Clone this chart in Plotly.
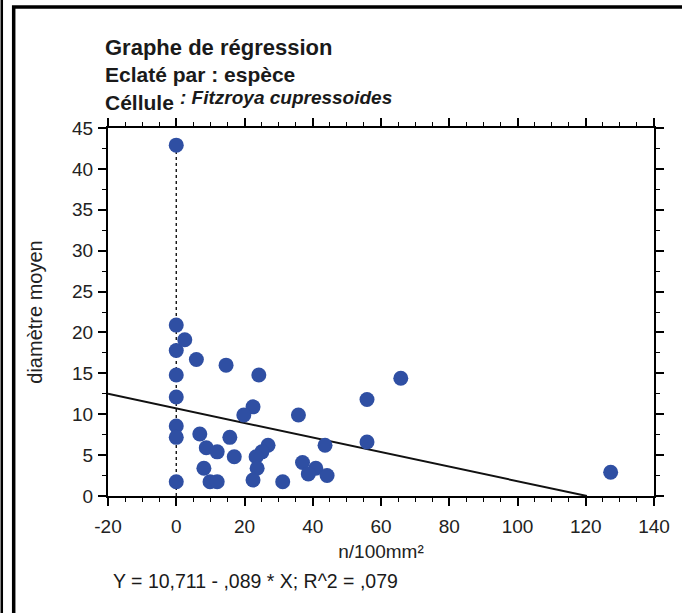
import plotly.graph_objects as go

# Data
x_vals = [0, 0, 0, 0, 0, 0, 0, 0,
          2.5, 5.9, 14.6, 24.2, 22.5, 19.8, 35.8, 6.9, 15.7, 43.6, 26.9, 25.1,
          8.8, 12.0, 17.0, 23.4, 37.0, 23.7, 8.1, 40.9, 38.7, 44.2, 9.9, 12.0,
          22.5, 31.2, 65.8, 55.9, 55.9, 127.3]
y_vals = [42.9, 20.9, 17.8, 14.8, 12.1, 8.56, 7.17, 1.75,
          19.1, 16.7, 16.0, 14.8, 10.9, 9.9, 9.9, 7.58, 7.17, 6.2, 6.2, 5.4,
          5.9, 5.4, 4.8, 4.8, 4.1, 3.4, 3.4, 3.4, 2.7, 2.5, 1.75, 1.75,
          1.96, 1.75, 14.4, 11.8, 6.6, 2.9]
intercept = 10.711
slope = -0.089
x_range = [-20, 140]
y_range = [0, 45]
x_ticks = [-20, 0, 20, 40, 60, 80, 100, 120, 140]
x_ticktext = ["-20", "0", "20", "40", "60", "80", "100", "120", "140"]
y_ticks = [0, 5, 10, 15, 20, 25, 30, 35, 40, 45]

W, H = 682, 613
L, R, T, B = 108, 24, 128, 117
PW, PH = W - L - R, H - T - B

def px(xp):
    return (xp - L) / PW

def py(yp):
    return (H - B - yp) / PH

FONT = "Liberation Sans, Arial, sans-serif"
BLUE = "#2F4FA3"

fig = go.Figure()

# dotted vertical reference at x=0
fig.add_trace(go.Scatter(x=[0, 0], y=[0, 44], mode="lines",
                         line=dict(color="black", width=1.3, dash="dot"),
                         hoverinfo="skip", showlegend=False))

# regression line clipped at y = 0
x_end = -intercept / slope
fig.add_trace(go.Scatter(x=[x_range[0], x_end],
                         y=[intercept + slope * x_range[0], intercept + slope * x_end],
                         mode="lines", line=dict(color="#111111", width=2),
                         showlegend=False, hoverinfo="skip"))

fig.add_trace(go.Scatter(x=x_vals, y=y_vals, mode="markers",
                         marker=dict(size=15, color=BLUE, line=dict(width=0)),
                         showlegend=False))

axis_common = dict(showline=True, linecolor="black", linewidth=2, mirror="ticks",
                   ticks="outside", ticklen=8, tickwidth=1.5, tickcolor="black",
                   showgrid=False, zeroline=False,
                   tickfont=dict(family=FONT, size=19, color="#222222"))

fig.update_xaxes(range=x_range, tickvals=x_ticks, ticktext=x_ticktext, **axis_common,
                 ticklabelstandoff=4,
                 minor=dict(dtick=5, ticks="outside", ticklen=4, tickwidth=1.2,
                            tickcolor="black", showgrid=False),
                 title=dict(text="n/100mm²", font=dict(family=FONT, size=19, color="#222222"),
                            standoff=9))
fig.update_yaxes(range=y_range, tickvals=y_ticks, **axis_common,
                 ticklabelstandoff=1,
                 minor=dict(dtick=2.5, ticks="outside", ticklen=4, tickwidth=1.2,
                            tickcolor="black", showgrid=False),
                 title=dict(text="diamètre moyen", font=dict(family=FONT, size=20, color="#222222"),
                            standoff=24))

annotations = [
    dict(text="<b>Graphe de régression</b>", x=px(103), y=py(48), size=22),
    dict(text="<b>Eclaté par : espèce</b>", x=px(103), y=py(75), size=21),
    dict(text="<b>Céllule</b>", x=px(103), y=py(102), size=21),
    dict(text="<b><i>: Fitzroya cupressoides</i></b>", x=px(179), y=py(98), size=19),
    dict(text="Y = 10,711 - ,089 * X; R^2 = ,079", x=px(111), y=py(581), size=19.5),
]
fig.update_layout(annotations=[
    dict(text=a["text"], x=a["x"], y=a["y"], xref="paper", yref="paper",
         xanchor="left", yanchor="middle", showarrow=False,
         font=dict(family=FONT, size=a["size"], color="#1a1a1a"))
    for a in annotations
])

# frame lines drawn as one open path (left double rule + top rule)
fig.update_layout(shapes=[
    dict(type="line", xref="paper", yref="paper", x0=px(1), x1=px(1), y0=py(0), y1=py(H),
         line=dict(color="black", width=2.5)),
    dict(type="path", xref="paper", yref="paper",
         path=f"M {px(13)},{py(H)} L {px(13)},{py(7)} L {px(W + 5)},{py(7)}",
         line=dict(color="black", width=3.5)),
])

fig.update_layout(width=W, height=H, margin=dict(l=L, r=R, t=T, b=B),
                  paper_bgcolor="white", plot_bgcolor="white",
                  font=dict(family=FONT, color="#222222"))

fig.write_html("out.html", config={"displayModeBar": False})
